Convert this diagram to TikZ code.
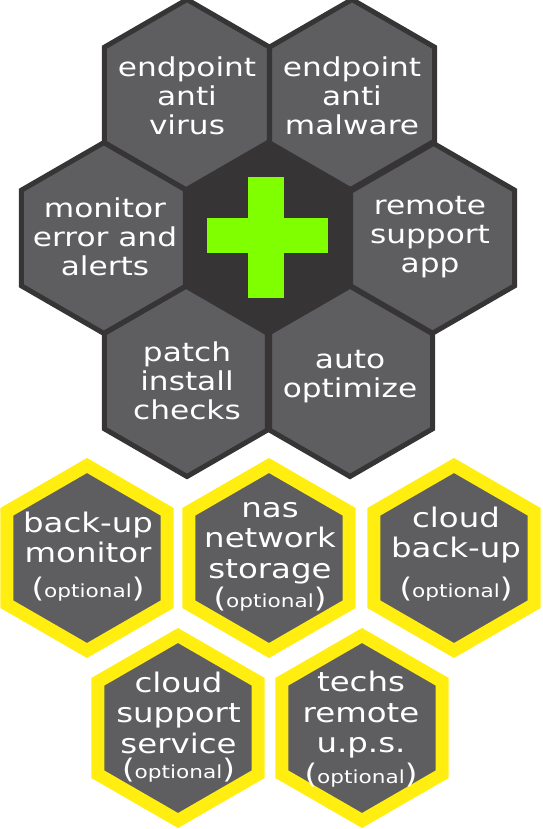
\documentclass[tikz,border=0pt]{standalone}
\usepackage{fontspec}
\setmainfont{DejaVu Sans}[FakeStretch=1.2]
\definecolor{hexgray}{HTML}{5E5D5F}
\definecolor{hexdark}{HTML}{363435}
\definecolor{plusgreen}{HTML}{80FF00}
\definecolor{optyellow}{HTML}{FFEE10}
\newcommand{\hexagonat}[3]{%
  \path[#1] (#2) +(90:#3) -- +(30:#3) -- +(-30:#3) -- +(-90:#3) -- +(-150:#3) -- +(150:#3) -- cycle;}
\newcommand{\opttext}{\strut({\fontsize{18}{20}\selectfont optional})}
\tikzset{
  toptext/.style={text=white, align=center, inner sep=0pt, font=\fontsize{26}{29}\selectfont},
  bottext/.style={text=white, align=center, inner sep=0pt, font=\fontsize{27}{30.5}\selectfont},
  tophexfill/.style={fill=hexgray},
  centerhexfill/.style={fill=hexdark},
  tophexborder/.style={draw=hexdark, line width=5pt, line join=miter},
  opthex/.style={fill=hexgray, draw=optyellow, line width=13pt, line join=miter},
  plusbar/.style={fill=plusgreen, draw=none},
}
\begin{document}
\begin{tikzpicture}[x=1pt, y=-1pt]
\useasboundingbox (0,0) rectangle (542,829);
% centres of the top cluster
\coordinate (h1) at (187,95);
\coordinate (h2) at (352,95);
\coordinate (h3) at (104,238);
\coordinate (hc) at (268,238);
\coordinate (h4) at (432,238);
\coordinate (h5) at (187,381);
\coordinate (h6) at (350,381);
% centres of the optional hexagons
\coordinate (o1) at (87,558);
\coordinate (o2) at (269,558);
\coordinate (o3) at (454,558);
\coordinate (o4) at (178,728);
\coordinate (o5) at (362,728);
% fills
\foreach \c in {h1,h2,h3,h4,h5,h6} {\hexagonat{tophexfill}{\c}{95.5}}
\hexagonat{centerhexfill}{hc}{95.5}
% borders
\foreach \c in {h1,h2,h3,hc,h4,h5,h6} {\hexagonat{tophexborder}{\c}{95.5}}
% plus sign
\fill[plusbar] (248,177) rectangle (284,298);
\fill[plusbar] (207,218) rectangle (328,253);
% optional hexagons
\foreach \c in {o1,o2,o3,o4,o5} {\hexagonat{opthex}{\c}{92.5}}
% texts
\node[toptext] (t1) at (187,100.2) {\strut endpoint\\\strut anti\\\strut virus};
\node[toptext] (t2) at (352,100.2) {\strut endpoint\\\strut anti\\\strut malware};
\node[toptext] (t3) at (105,240.7) {\strut monitor\\\strut error and\\\strut alerts};
\node[toptext] (t4) at (430,237.2) {\strut remote\\\strut support\\\strut app};
\node[toptext] (t5) at (187,384.2) {\strut patch\\\strut install\\\strut checks};
\node[toptext] (t6) at (350,376.7) {\strut auto\\\strut optimize};
\node[bottext] (b1) at (88,558.4) {\strut back-up\\\strut monitor\\[4pt]\opttext};
\node[bottext] (b2) at (270,555.9) {\strut nas\\\strut network\\\strut storage\\[-1.5pt]\opttext};
\node[bottext] (b3) at (456,555.9) {\strut cloud\\\strut back-up\\[9pt]\opttext};
\node[bottext] (b4) at (178.5,728.9) {\strut cloud\\\strut support\\\strut service\\[-5.5pt]\opttext};
\node[bottext] (b5) at (361,731.4) {\strut techs\\\strut remote\\\strut u.p.s.\\\opttext};
\end{tikzpicture}
\end{document}
